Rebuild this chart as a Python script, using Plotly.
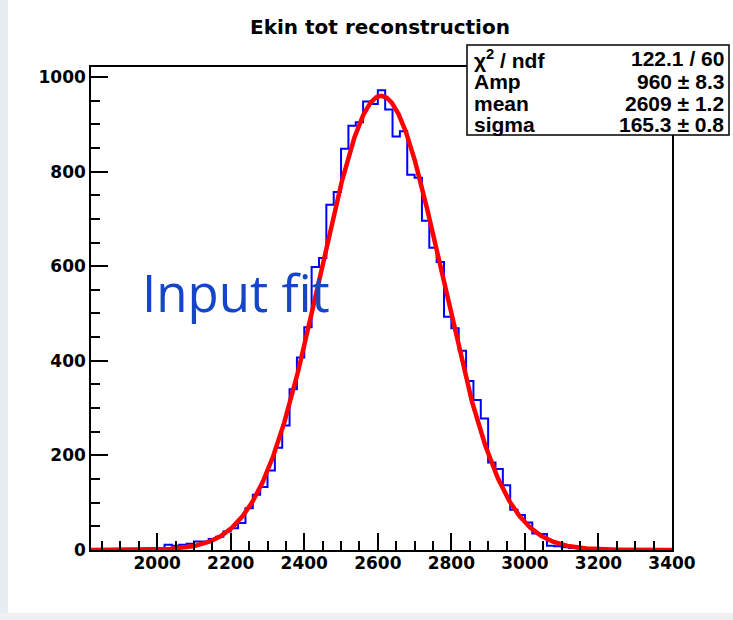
import numpy as np
import plotly.graph_objects as go

# ---------------- data ----------------
bin_width = 20
bin_low = list(range(1820, 3400, bin_width))  # 79 bins, 1820..3400
counts = [0, 0, 0, 1, 0, 1, 1, 2, 2, 4,
          11, 9, 11, 13, 18, 18, 23, 28, 39, 46,
          57, 88, 117, 133, 168, 216, 263, 340, 407, 471,
          598, 617, 730, 757, 848, 897, 904, 948, 943, 972,
          931, 874, 885, 793, 787, 696, 639, 609, 493, 469,
          421, 357, 317, 278, 185, 171, 137, 85, 74, 58,
          35, 34, 9, 8, 6, 4, 3, 2, 1, 1,
          0, 0, 0, 0, 0, 0, 0, 0, 0]

fit_amp = 960.0
fit_mean = 2609.0
fit_sigma = 165.3

stats_labels = ["χ<sup>2</sup> / ndf", "Amp", "mean", "sigma"]
stats_values = ["122.1 / 60", "960 ± 8.3", "2609 ± 1.2", "165.3 ± 0.8"]

x_ticks = [2000, 2200, 2400, 2600, 2800, 3000, 3200, 3400]
y_ticks = [0, 200, 400, 600, 800, 1000]

# ---------------- figure ----------------
edges = bin_low + [bin_low[-1] + bin_width]
hist_y = counts + [counts[-1]]

xf = np.linspace(edges[0], edges[-1], 900)
yf = fit_amp * np.exp(-0.5 * ((xf - fit_mean) / fit_sigma) ** 2)

fig = go.Figure()
fig.add_trace(go.Scatter(x=edges, y=hist_y, mode="lines", line_shape="hv",
                         line=dict(color="#0000ff", width=2), hoverinfo="skip"))
fig.add_trace(go.Scatter(x=xf, y=yf, mode="lines",
                         line=dict(color="#ff0000", width=4.5), hoverinfo="skip"))

FONT = "Liberation Sans"
WIDE = "DejaVu Sans"
L, R, T, B = 91, 61, 67, 70
W, H = 733, 620
pw = W - L - R
ph = H - T - B


def px2paper_x(px):
    return (px - L) / pw


def py2paper_y(py):
    return (H - B - py) / ph


axis_common = dict(
    showgrid=False, zeroline=False, showline=True, linecolor="black",
    linewidth=1.5, mirror=True, ticks="inside", ticklen=17, tickwidth=1.5,
    tickcolor="black",
    tickfont=dict(family=WIDE, size=17, color="black", weight="bold"),
)

fig.update_layout(
    width=W, height=H,
    margin=dict(l=L, r=R, t=T, b=B),
    paper_bgcolor="white", plot_bgcolor="white",
    showlegend=False,
    title=dict(text="Ekin tot reconstruction", x=px2paper_x(380), xref="paper",
               xanchor="center", y=1 - 27 / H, yref="container", yanchor="middle",
               font=dict(family=WIDE, size=20, color="black", weight="bold")),
    xaxis=dict(range=[edges[0], edges[-1]], tickvals=x_ticks,
               ticklabelstandoff=-3,
               minor=dict(dtick=50, ticks="inside", ticklen=9, tickwidth=1.5,
                          tickcolor="black"),
               **axis_common),
    yaxis=dict(range=[0, 1021], tickvals=y_ticks,
               minor=dict(dtick=50, ticks="inside", ticklen=9, tickwidth=1.5,
                          tickcolor="black"),
               **axis_common),
)

shapes = [
    # left canvas border strip
    dict(type="rect", xref="paper", yref="paper",
         x0=px2paper_x(0), x1=px2paper_x(8), y0=py2paper_y(620), y1=py2paper_y(0),
         fillcolor="#e8edf2", line=dict(width=0), layer="below"),
    # bottom strip
    dict(type="rect", xref="paper", yref="paper",
         x0=px2paper_x(0), x1=px2paper_x(733), y0=py2paper_y(620), y1=py2paper_y(613),
         fillcolor="#eef0f1", line=dict(width=0), layer="below"),
    # stats box
    dict(type="rect", xref="paper", yref="paper",
         x0=px2paper_x(467), x1=px2paper_x(729), y0=py2paper_y(135), y1=py2paper_y(45),
         fillcolor="white", line=dict(color="black", width=1.5), layer="above"),
]
fig.update_layout(shapes=shapes)

row_y = [59, 82, 103, 124]
ann = []
for lab, val, ry in zip(stats_labels, stats_values, row_y):
    ann.append(dict(text=lab, xref="paper", yref="paper", x=px2paper_x(472),
                    y=py2paper_y(ry), xanchor="left", yanchor="middle",
                    showarrow=False,
                    font=dict(family=FONT, size=21, color="black", weight="bold")))
    ann.append(dict(text=val, xref="paper", yref="paper", x=px2paper_x(726),
                    y=py2paper_y(ry), xanchor="right", yanchor="middle",
                    showarrow=False,
                    font=dict(family=FONT, size=21, color="black", weight="bold")))
ann.append(dict(text="Input fit", xref="paper", yref="paper", x=px2paper_x(140),
                y=py2paper_y(292), xanchor="left", yanchor="middle", showarrow=False,
                font=dict(family="Open Sans", size=51, color="#1546c8")))
fig.update_layout(annotations=ann)

fig.write_html("out.html")
